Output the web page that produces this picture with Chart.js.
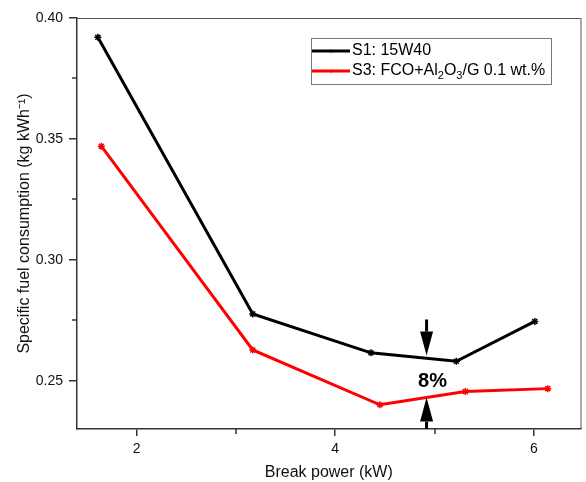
<!DOCTYPE html>
<html><head><meta charset="utf-8">
<script src="https://cdn.jsdelivr.net/npm/chart.js@4/dist/chart.umd.min.js"></script>
<style>html,body{margin:0;padding:0;background:#fff}#wrap{width:586px;height:482px;position:relative}</style>
</head><body><div id="wrap"><canvas id="c"></canvas></div>
<script>
// ---- data ----
const powerS1 = [1.61, 3.17, 4.36, 5.22, 6.01];
const sfcS1   = [0.392, 0.2776, 0.2615, 0.258, 0.2745];
const powerS3 = [1.645, 3.17, 4.45, 5.31, 6.14];
const sfcS3   = [0.347, 0.2627, 0.240, 0.2455, 0.2467];
const labelS1 = 'S1: 15W40';
const labelS3 = 'S3: FCO+Al₂O₃/G 0.1 wt.%';
const xTitle = 'Break power (kW)';
const yTitle = 'Specific fuel consumption (kg kWh⁻¹)';
const xMinorTicks = [3, 5];
const yMinorTicks = [0.275, 0.325, 0.375];
// annotation: arrows and percentage
const arrowX = 4.92;
const downArrow = [0.2753, 0.2604];   // from, tip
const upArrow = [0.23, 0.2430];       // from, tip
const diffLabel = '8%';
const diffPos = [4.98, 0.2496];

const FONT = "'Liberation Sans', Arial, sans-serif";
const toXY = (xs, ys) => xs.map((x, i) => ({x, y: ys[i]}));

const extras = {
  id: 'extras',
  afterDraw(chart) {
    const ctx = chart.ctx, xs = chart.scales.x, ys = chart.scales.y, a = chart.chartArea;
    ctx.save();
    // top/right frame
    ctx.strokeStyle = '#555'; ctx.lineWidth = 1;
    ctx.beginPath();
    ctx.moveTo(a.left, a.top + 0.5); ctx.lineTo(a.right + 0.5, a.top + 0.5); ctx.lineTo(a.right + 0.5, a.bottom);
    ctx.stroke();
    // minor ticks
    ctx.strokeStyle = '#333'; ctx.lineWidth = 1.5;
    xMinorTicks.forEach(v => {
      const px = Math.round(xs.getPixelForValue(v));
      ctx.beginPath(); ctx.moveTo(px, a.bottom); ctx.lineTo(px, a.bottom + 5); ctx.stroke();
    });
    yMinorTicks.forEach(v => {
      const py = Math.round(ys.getPixelForValue(v));
      ctx.beginPath(); ctx.moveTo(a.left, py); ctx.lineTo(a.left - 5, py); ctx.stroke();
    });
    // arrows
    const drawArrow = (x, y0, y1) => {
      const px = xs.getPixelForValue(x);
      const p0 = ys.getPixelForValue(y0), p1 = ys.getPixelForValue(y1);
      const dir = Math.sign(p1 - p0);
      const headLen = 24, headW = 6.5;
      ctx.strokeStyle = '#000'; ctx.fillStyle = '#000'; ctx.lineWidth = 3;
      ctx.beginPath(); ctx.moveTo(px, p0); ctx.lineTo(px, p1 - dir * headLen); ctx.stroke();
      ctx.beginPath();
      ctx.moveTo(px, p1);
      ctx.lineTo(px - headW, p1 - dir * headLen);
      ctx.lineTo(px + headW, p1 - dir * headLen);
      ctx.closePath(); ctx.fill();
    };
    drawArrow(arrowX, downArrow[0], downArrow[1]);
    drawArrow(arrowX, upArrow[0], upArrow[1]);
    ctx.fillStyle = '#000';
    ctx.font = "bold 20px " + FONT;
    ctx.textAlign = 'center'; ctx.textBaseline = 'middle';
    ctx.fillText(diffLabel, xs.getPixelForValue(diffPos[0]), ys.getPixelForValue(diffPos[1]));
    // legend
    const bx = 311, by = 38, bw = 240, bh = 46;
    ctx.strokeStyle = '#777'; ctx.lineWidth = 1;
    ctx.fillStyle = '#fff';
    ctx.fillRect(bx, by, bw, bh);
    ctx.strokeRect(bx + 0.5, by + 0.5, bw, bh);
    const entries = [
      {color: '#000', y: by + 13, segs: [{t: 'S1: 15W40'}]},
      {color: '#ff0000', y: by + 33, segs: [{t: 'S3: FCO+Al'}, {t: '2', sub: true}, {t: 'O'}, {t: '3', sub: true}, {t: '/G 0.1 wt.%'}]}
    ];
    entries.forEach(e => {
      ctx.strokeStyle = e.color; ctx.lineWidth = 3;
      ctx.beginPath(); ctx.moveTo(bx + 1, e.y); ctx.lineTo(bx + 39, e.y); ctx.stroke();
      ctx.fillStyle = e.color;
      ctx.beginPath(); ctx.arc(bx + 20, e.y, 1.5, 0, Math.PI * 2); ctx.fill();
      ctx.fillStyle = '#000'; ctx.textAlign = 'left'; ctx.textBaseline = 'middle';
      let tx = bx + 41;
      e.segs.forEach(s => {
        ctx.font = (s.sub ? '11px ' : '16px ') + FONT;
        ctx.fillText(s.t, tx, e.y + (s.sub ? 4.5 : 0));
        tx += ctx.measureText(s.t).width;
      });
    });
    ctx.restore();
  }
};

new Chart(document.getElementById('c'), {
  type: 'line',
  data: {
    datasets: [
      {label: labelS1, data: toXY(powerS1, sfcS1), borderColor: '#000', backgroundColor: '#000',
       borderWidth: 3, pointStyle: 'star', pointRadius: 3.5, pointBorderWidth: 1.5, tension: 0},
      {label: labelS3, data: toXY(powerS3, sfcS3), borderColor: '#ff0000', backgroundColor: '#ff0000',
       borderWidth: 3, pointStyle: 'star', pointRadius: 3.5, pointBorderWidth: 1.5, tension: 0}
    ]
  },
  options: {
    responsive: true, maintainAspectRatio: false, animation: false, devicePixelRatio: 1,
    layout: {padding: {top: 18, right: 4, left: 0, bottom: 0}},
    plugins: {legend: {display: false}, tooltip: {enabled: false}},
    scales: {
      x: {
        type: 'linear', min: 1.4, max: 6.47,
        afterFit: s => { s.height = 53; },
        ticks: {stepSize: 2, includeBounds: false, color: '#111', padding: 5,
                font: {family: FONT, size: 14}},
        grid: {drawOnChartArea: false, drawTicks: true, tickLength: 7, color: '#333', lineWidth: 1.5},
        border: {display: true, color: '#333', width: 1.5},
        title: {display: true, text: xTitle, color: '#111', font: {family: FONT, size: 16, lineHeight: 1.2},
                padding: {top: 0, bottom: 0}}
      },
      y: {
        min: 0.23, max: 0.40,
        afterFit: s => { s.width = 77; },
        ticks: {stepSize: 0.05, includeBounds: false, color: '#111', padding: 6,
                font: {family: FONT, size: 14}, callback: v => Number(v).toFixed(2)},
        grid: {drawOnChartArea: false, drawTicks: true, tickLength: 8, color: '#333', lineWidth: 1.5},
        border: {display: true, color: '#333', width: 1.5},
        title: {display: true, text: yTitle, color: '#111', font: {family: FONT, size: 16, lineHeight: 1.2},
                padding: {top: 15, bottom: 0}}
      }
    }
  },
  plugins: [extras]
});
</script>
</body></html>
